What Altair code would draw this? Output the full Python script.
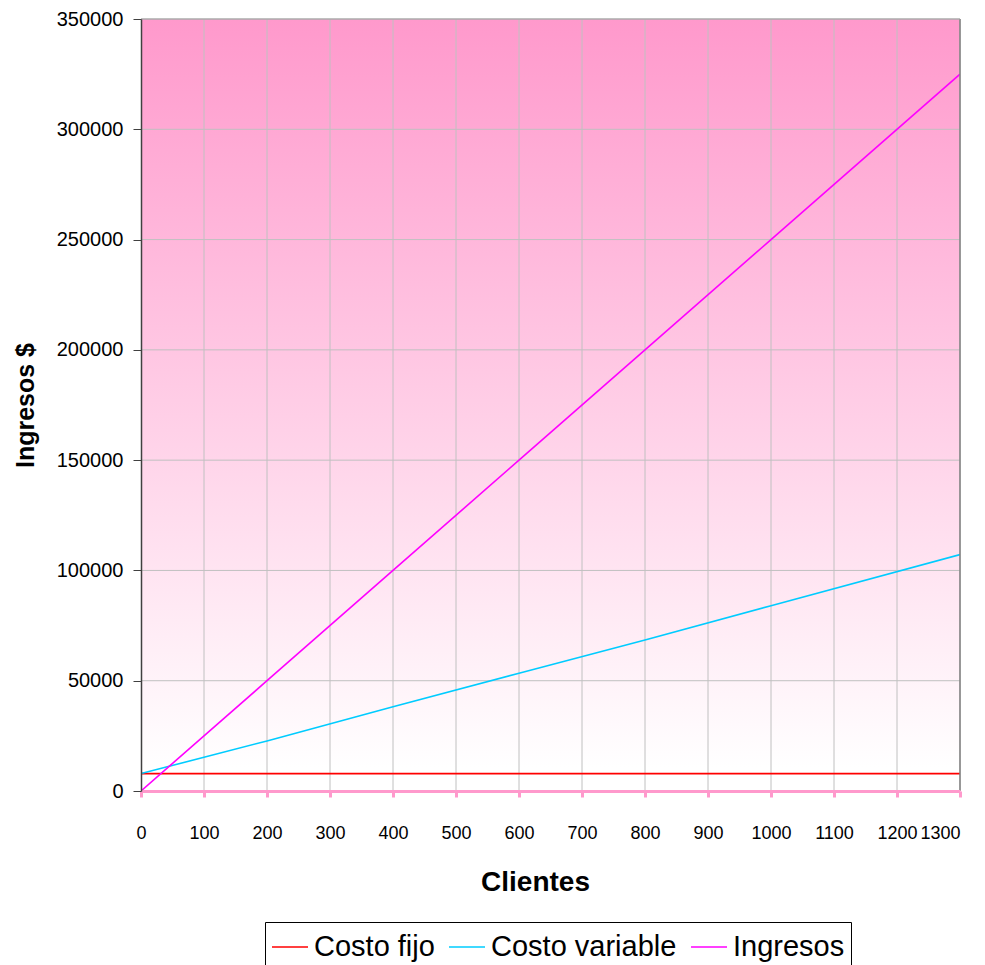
import altair as alt
import pandas as pd

# Break-even style chart: fixed cost, variable cost and revenue by number of clients
clientes = [0, 200, 400, 600, 800, 1000, 1300]
costo_fijo = [7900, 7900, 7900, 7900, 7900, 7900, 7900]
costo_variable = [7900, 22700, 38200, 53400, 68500, 84000, 107200]
ingresos = [0, 50000, 100000, 150000, 200000, 250000, 325000]

series = ["Costo fijo", "Costo variable", "Ingresos"]
colores = ["#FF0000", "#00CCFF", "#FF00FF"]

x_ticks = list(range(0, 1301, 100))
y_ticks = list(range(0, 350001, 50000))

rows = []
for nombre, valores in zip(series, [costo_fijo, costo_variable, ingresos]):
    for c, v in zip(clientes, valores):
        rows.append({"Clientes": c, "Valor": v, "Serie": nombre})
df = pd.DataFrame(rows)

W, H = 819, 772
FONT = "Liberation Sans"
x_scale = alt.Scale(domain=[0, 1300], nice=False, zero=True)
y_scale = alt.Scale(domain=[0, 350000], nice=False)
uno = pd.DataFrame({"k": [0]})

x_axis = alt.Axis(
    title="Clientes", values=x_ticks, format="d", grid=False, zindex=1,
    domainColor="#FF99CC", domainWidth=3,
    tickColor="#FF99CC", tickWidth=3, tickSize=6,
    labelFont=FONT, labelFontSize=18, labelColor="#000000", labelPadding=27,
    labelFlush=False, labelOverlap=False, labelBound=False,
    labelAlign={"condition": {"test": "datum.value == 1300", "value": "right"},
                "value": "center"},
    titleFont=FONT, titleFontSize=28, titleFontWeight="bold", titleColor="#000000",
    titlePadding=26, titleX=394, titleAlign="center",
)
y_axis = alt.Axis(
    title="Ingresos $", values=y_ticks, format="d", grid=False, zindex=1,
    domainColor="#404040", domainWidth=1.5,
    tickColor="#404040", tickWidth=1, tickSize=8,
    labelFont=FONT, labelFontSize=20, labelColor="#000000", labelPadding=10,
    labelOverlap=False,
    titleFont=FONT, titleFontSize=25, titleFontWeight="bold", titleColor="#000000",
    titlePadding=18,
)
x_enc = alt.X("Clientes:Q", scale=x_scale, axis=x_axis)
y_enc = alt.Y("Valor:Q", scale=y_scale, axis=y_axis)

# gradient backdrop of the plot area
fondo = alt.Chart(uno).mark_rect(
    color=alt.Gradient(
        gradient="linear", x1=0, x2=0, y1=0, y2=1,
        stops=[alt.GradientStop(offset=0, color="#FF99CC"),
               alt.GradientStop(offset=0.97, color="#FFFFFF")]
    )
).encode(x=alt.value(0), x2=alt.value(W), y=alt.value(0), y2=alt.value(H))

# gridlines drawn over the backdrop
grid_x = alt.Chart(pd.DataFrame({"Clientes": x_ticks[1:]})).mark_rule(
    color="#C0C0C0", strokeWidth=1
).encode(x=x_enc)
grid_y = alt.Chart(pd.DataFrame({"Valor": y_ticks[1:]})).mark_rule(
    color="#C0C0C0", strokeWidth=1
).encode(y=y_enc)

# frame on top and right
marco = alt.Chart(uno).mark_rule(color="#808080", strokeWidth=1.5).encode(
    x=alt.value(W), y=alt.value(0), y2=alt.value(H)
)
marco_top = alt.Chart(uno).mark_rule(color="#A0A0A0", strokeWidth=1).encode(
    x=alt.value(0), x2=alt.value(W), y=alt.value(0)
)

lineas = alt.Chart(df).mark_line(strokeWidth=1.6, clip=True).encode(
    x=x_enc,
    y=y_enc,
    color=alt.Color(
        "Serie:N",
        scale=alt.Scale(domain=series, range=colores),
        legend=alt.Legend(
            title=None, orient="none", legendX=124, legendY=903,
            direction="horizontal", symbolType="stroke", symbolSize=1296,
            symbolStrokeWidth=1.6, labelFont=FONT, labelFontSize=29,
            labelColor="#000000", labelOffset=5, columnPadding=10,
            strokeColor="#000000", padding=6, labelLimit=400,
        ),
    ),
)

chart = alt.layer(fondo, grid_x, grid_y, lineas, marco, marco_top).properties(
    width=W, height=H,
    padding={"left": 141, "top": 19, "right": 25, "bottom": 174},
    autosize=alt.AutoSizeParams(type="none"),
).configure_view(stroke=None)

chart.save("out.html", embed_options={"renderer": "svg", "actions": False})
